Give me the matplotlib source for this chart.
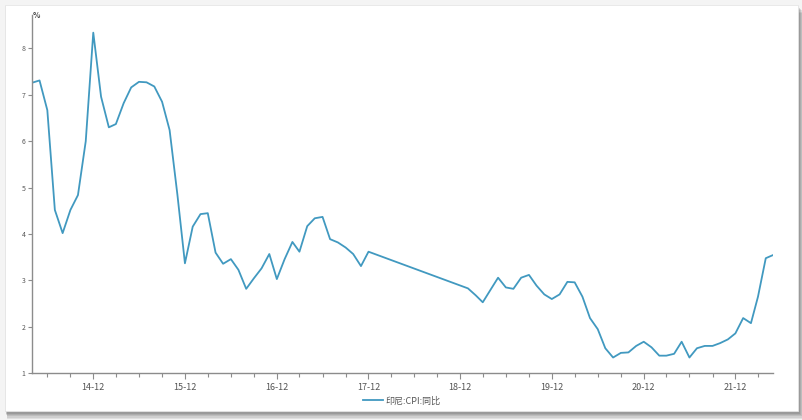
import matplotlib
matplotlib.use('Agg')
import matplotlib.pyplot as plt
import matplotlib.dates as mdates
from matplotlib.patches import Rectangle
import pandas as pd

plt.rcParams['font.family'] = ['Noto Sans CJK SC', 'DejaVu Sans']

# Indonesia CPI YoY (%), monthly; 2018 is missing in the source
months_a = pd.date_range('2014-04-01', '2017-12-01', freq='MS')
cpi_a = [7.26, 7.31, 6.67, 4.52, 4.02, 4.52, 4.84, 6.00, 8.34,
         6.96, 6.30, 6.37, 6.82, 7.16, 7.28, 7.27, 7.18, 6.85, 6.24, 4.85, 3.37,
         4.16, 4.43, 4.45, 3.60, 3.36, 3.46, 3.23, 2.82, 3.05, 3.26, 3.57, 3.03,
         3.46, 3.83, 3.62, 4.17, 4.34, 4.37, 3.89, 3.82, 3.71, 3.57, 3.31, 3.62]
months_b = pd.date_range('2019-01-01', '2022-05-01', freq='MS')
cpi_b = [2.83, 2.68, 2.53, 2.80, 3.06, 2.85, 2.82, 3.06, 3.12, 2.89, 2.70, 2.60,
         2.70, 2.97, 2.96, 2.65, 2.19, 1.95, 1.54, 1.34, 1.44, 1.45, 1.59, 1.68,
         1.56, 1.38, 1.38, 1.42, 1.68, 1.34, 1.54, 1.59, 1.59, 1.65, 1.73, 1.86,
         2.19, 2.08, 2.65, 3.48, 3.55]
dates = list(months_a) + list(months_b)
values = cpi_a + cpi_b
series_name = '印尼:CPI:同比'
y_ticks = [1, 2, 3, 4, 5, 6, 7, 8]

W, H = 803, 420
fig = plt.figure(figsize=(W / 100, H / 100), dpi=100)
fig.patch.set_facecolor('#f4f4f4')

# card with soft shadow (heavier at the bottom)
for i, a in enumerate([0.12, 0.12, 0.14, 0.16, 0.20, 0.22]):
    off = 6 - i
    fig.patches.append(Rectangle(((5 + off * 0.4) / W, (9 - off * 1.3) / H),
                                 (793 + off * 0.6) / W, 406 / H,
                                 transform=fig.transFigure, facecolor='#555555',
                                 edgecolor='none', alpha=a, zorder=0))
fig.patches.append(Rectangle((5 / W, 9 / H), 793 / W, 406 / H,
                             transform=fig.transFigure, facecolor='white',
                             edgecolor='#e6e6e6', linewidth=0.6, zorder=1))

ax = fig.add_axes([32 / W, 1 - 373.3 / H, (773.3 - 32) / W, (373.3 - 15) / H])
ax.set_zorder(3)
ax.set_facecolor('none')
ax.plot(dates, values, color='#4199c0', linewidth=1.3, label=series_name)

ax.set_xlim(pd.Timestamp('2014-04-01'), pd.Timestamp('2022-05-01'))
ax.set_ylim(1, 8.72)
ax.set_yticks(y_ticks)
ax.set_yticklabels([str(v) for v in y_ticks])

ax.xaxis.set_major_locator(mdates.MonthLocator(bymonth=[12]))
ax.xaxis.set_major_formatter(mdates.DateFormatter('%y-%m'))
ax.xaxis.set_minor_locator(mdates.MonthLocator(bymonth=[3, 6, 9]))

for s in ['top', 'right']:
    ax.spines[s].set_visible(False)
for s in ['left', 'bottom']:
    ax.spines[s].set_color('#8c8c8c')
    ax.spines[s].set_linewidth(1.0)

ax.tick_params(axis='y', length=3, width=0.8, color='#8c8c8c',
               labelsize=5, labelcolor='#555555', pad=1.5)
ax.tick_params(axis='x', which='major', length=4, width=0.8, color='#8c8c8c',
               labelsize=6.5, labelcolor='#555555', pad=3)
ax.tick_params(axis='x', which='minor', length=3, width=0.8, color='#8c8c8c')

fig.text(33 / W, 1 - 15 / H, '%', fontsize=5.5, color='#444444',
         fontweight='bold', va='center', ha='left', zorder=4)

leg = fig.legend(loc='center', bbox_to_anchor=(0.5, 1 - 401 / H), frameon=False,
                 fontsize=6.5, handlelength=2.2, handletextpad=0.3,
                 labelcolor='#555555')
leg.set_zorder(4)

fig.savefig('out.png', dpi=100, facecolor=fig.get_facecolor())
